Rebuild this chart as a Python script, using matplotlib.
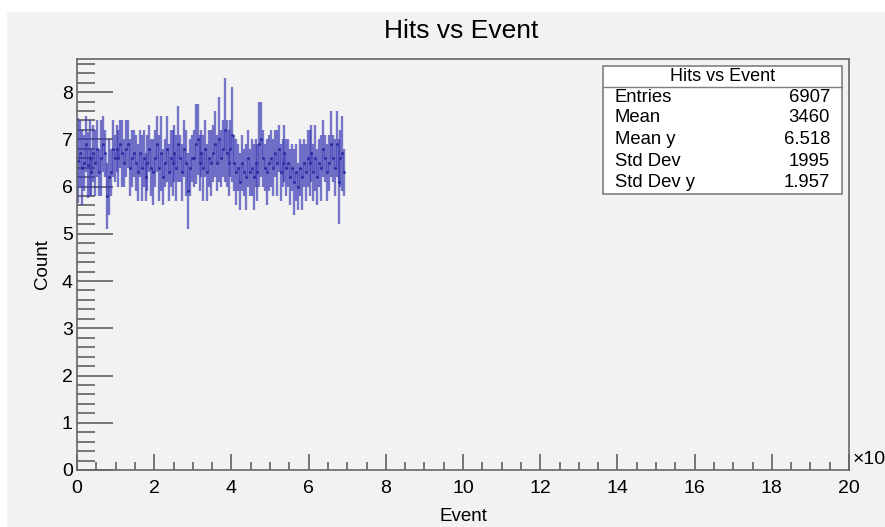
import numpy as np
import matplotlib
matplotlib.use("Agg")
import matplotlib.pyplot as plt
from matplotlib.patches import Rectangle
from matplotlib.lines import Line2D
from matplotlib.ticker import MultipleLocator

plt.rcParams['font.family'] = ['Liberation Sans', 'DejaVu Sans']

# profile bins: width 0.05 (x10^3 events), starting at 0
bin_width = 0.05
bin_means = [
    6.55, 6.7, 6.4, 6.5, 6.9, 6.45, 6.6, 6.3, 6.7, 6.5,
    6.8, 6.3, 6.6, 6.9, 6.7, 5.8, 6.2, 6.3, 6.8, 6.6,
    6.8, 6.6, 6.9, 6.7, 6.5, 6.8, 6.9, 6.4, 6.6, 6.7,
    6.5, 6.3, 6.7, 6.4, 6.6, 6.2, 6.5, 6.8, 6.4, 6.3,
    6.6, 6.9, 6.4, 6.7, 6.2, 6.5, 6.8, 6.3, 6.6, 6.5,
    6.7, 6.4, 6.9, 6.6, 6.3, 6.8, 6.5, 5.9, 6.4, 6.6,
    6.6, 6.9, 7.0, 6.5, 6.7, 6.4, 6.8, 6.3, 6.6, 6.5,
    6.7, 6.9, 6.5, 7.0, 6.6, 6.8, 7.2, 6.7, 6.5, 6.8,
    7.1, 6.5, 6.3, 6.4, 6.1, 6.5, 6.3, 6.2, 6.6, 6.3,
    6.4, 6.2, 6.5, 6.3, 6.9, 7.0, 6.6, 6.4, 6.3, 6.5,
    6.6, 6.4, 6.7, 6.5, 6.8, 6.3, 6.5, 6.7, 6.4, 6.5,
    6.2, 6.4, 6.1, 6.3, 6.0, 6.4, 6.2, 6.5, 6.3, 6.6,
    6.5, 6.7, 6.3, 6.6, 6.2, 6.5, 6.4, 6.8, 6.6, 6.3,
    6.5, 6.9, 6.6, 6.4, 6.9, 6.1, 6.6, 6.7, 6.3,
]
bin_errors = [
    0.9, 0.7, 0.8, 0.6, 0.6, 0.7, 0.8, 0.5, 0.6, 0.7,
    0.6, 0.5, 0.8, 0.6, 0.5, 0.7, 0.8, 0.5, 0.6, 0.5,
    0.5, 0.6, 0.5, 0.7, 0.5, 0.6, 0.5, 0.6, 0.6, 0.5,
    0.6, 0.6, 0.5, 0.7, 0.6, 0.5, 0.6, 0.5, 0.6, 0.7,
    0.6, 0.6, 0.7, 0.8, 0.6, 0.5, 0.7, 0.6, 0.6, 0.7,
    0.6, 0.7, 0.8, 0.5, 0.6, 0.6, 0.7, 0.8, 0.6, 0.5,
    0.6, 0.85, 0.75, 0.6, 0.5, 0.7, 0.6, 0.6, 0.6, 0.7,
    0.6, 0.7, 0.6, 0.9, 0.6, 0.6, 1.1, 0.7, 0.7, 0.6,
    1.0, 0.6, 0.7, 0.5, 0.6, 0.6, 0.5, 0.7, 0.6, 0.5,
    0.6, 0.7, 0.5, 0.6, 0.9, 0.8, 0.6, 0.5, 0.7, 0.6,
    0.6, 0.6, 0.5, 0.7, 0.5, 0.6, 0.5, 0.6, 0.6, 0.5,
    0.6, 0.5, 0.7, 0.6, 0.5, 0.6, 0.7, 0.5, 0.6, 0.6,
    0.7, 0.6, 0.6, 0.7, 0.6, 0.5, 0.7, 0.6, 0.5, 0.6,
    0.6, 0.7, 0.5, 0.6, 0.7, 0.9, 0.6, 0.8, 0.5,
]

stat_labels = ["Entries", "Mean", "Mean y", "Std Dev", "Std Dev y"]
stat_values = ["6907", "3460", "6.518", "1995", "1.957"]

W, H = 885, 527
fig = plt.figure(figsize=(W / 100, H / 100), dpi=100)
fig.patch.set_facecolor("white")

def fx(px):
    return px / W

def fy(py):
    return 1 - py / H

# grey canvas (leaves a thin white strip on top and left)
fig.add_artist(Rectangle((fx(7), 0), fx(878), fy(12), transform=fig.transFigure,
                         facecolor="#f2f2f2", edgecolor="none", zorder=0))

ax = fig.add_axes([fx(77), fy(470), fx(849 - 77), fy(59) - fy(470)])
ax.set_facecolor("#f2f2f2")

x = np.arange(len(bin_means)) * bin_width + bin_width / 2
ax.errorbar(x, bin_means, yerr=bin_errors, fmt=".", ms=2.5,
            color="#22229a", ecolor="#3434b4", elinewidth=1.7, alpha=0.65, capsize=0)
ax.plot(x, bin_means, color="#3434b4", lw=0.8, alpha=0.45, drawstyle="steps-mid")

ax.set_xlim(0, 20)
ax.set_ylim(0, 8.7)
ax.xaxis.set_major_locator(MultipleLocator(2))
ax.xaxis.set_minor_locator(MultipleLocator(0.5))
ax.yaxis.set_major_locator(MultipleLocator(1))
ax.yaxis.set_minor_locator(MultipleLocator(0.2))

tick_col = "#555555"
ax.tick_params(axis="x", which="major", direction="in", length=11.5, width=1.1,
               color=tick_col, labelsize=14, pad=7)
ax.tick_params(axis="x", which="minor", direction="in", length=5.8, width=1.1, color=tick_col)
ax.tick_params(axis="y", which="major", direction="in", length=26, width=1.1,
               color=tick_col, labelsize=14, pad=3)
ax.tick_params(axis="y", which="minor", direction="in", length=13, width=1.1, color=tick_col)
ax.tick_params(top=False, right=False)

for sp in ax.spines.values():
    sp.set_color("#666666")
    sp.set_linewidth(1.2)

ax.set_xlabel("Event", fontsize=13.5, labelpad=8)
ax.set_ylabel("Count", fontsize=13.5, labelpad=8)

fig.text(fx(461), fy(31), "Hits vs Event", fontsize=19, ha="center", va="center")
fig.text(fx(853), fy(459), "×10", fontsize=14, ha="left", va="center")

# stats box
bx0, by0, bx1, by1 = 603, 66, 842, 194
fig.add_artist(Rectangle((fx(bx0), fy(by1)), fx(bx1 - bx0), fy(by0) - fy(by1),
                         transform=fig.transFigure, facecolor="white",
                         edgecolor="#7f7f7f", linewidth=1.2, zorder=5))
fig.add_artist(Line2D([fx(bx0), fx(bx1)], [fy(87), fy(87)], transform=fig.transFigure,
                      color="#7f7f7f", linewidth=1.0, zorder=6))
fig.text(fx((bx0 + bx1) / 2), fy(76), "Hits vs Event", fontsize=13,
         ha="center", va="center", zorder=7)
row_y = [97, 118, 140, 162, 183]
for lab, val, ry in zip(stat_labels, stat_values, row_y):
    fig.text(fx(615), fy(ry), lab, fontsize=13.3, ha="left", va="center", zorder=7)
    fig.text(fx(830), fy(ry), val, fontsize=13.3, ha="right", va="center", zorder=7)

fig.savefig("out.png", dpi=100, facecolor=fig.get_facecolor())
